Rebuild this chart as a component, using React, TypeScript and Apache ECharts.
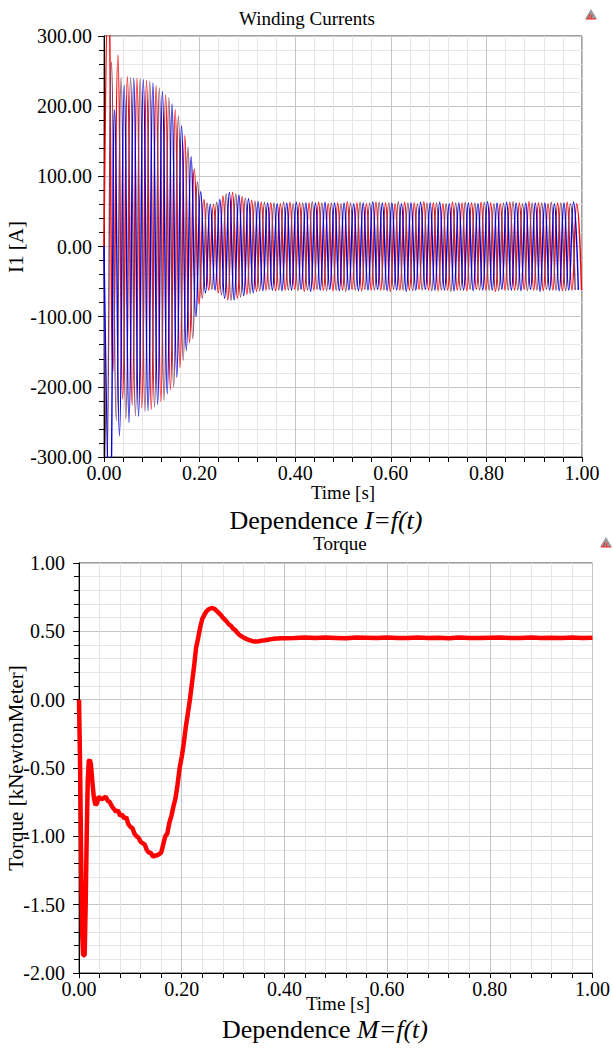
import React, { useEffect, useRef } from "react";
import * as echarts from "echarts";

// ---- Winding currents: successive half-cycle extrema (A), 50 Hz supply ----
const HALF_PERIOD = 0.01; // s between successive extrema
const RED_T0 = 0.009;
const BLUE_T0 = 0.0123;
const PURPLE_T0 = 0.0057;

const RED_PEAKS = [
  380, -178, 273, -217, 242, -226, 240, -230, 237, -232,
  229, -221, 216, -204, 195, -172, 158, -137, 110, -82,
  67, -62, 60, -66, 72, -76, 77, -74, 71, -68,
  66, -64, 63, -62,
  62, -63, 61, -62, 63, -61, 62, -64, 62, -62,
  63, -62, 61, -63, 62, -62, 64, -61, 62, -63,
  61, -62, 63, -62, 62, -64, 61, -62, 63, -62,
  62, -61, 64, -62, 62, -63, 61, -62, 63, -62,
  62, -63, 62, -61, 63, -62, 62, -64, 61, -62,
  63, -62, 62, -61, 64, -62, 62, -63, 61, -62,
  62, -63, 63, -62, 61, -62,
];

const BLUE_PEAKS = [
  -380, 195, -270, 230, -251, 240, -242, 238, -234, 233,
  -225, 221, -210, 203, -186, 172, -148, 128, -100, 78,
  -66, 60, -62, 67, -74, 77, -76, 73, -70, 68,
  -66, 64, -63, 62,
  -62, 61, -63, 62, -62, 63, -61, 62, -64, 62,
  -62, 63, -61, 62, -63, 62, -62, 61, -63, 62,
  -62, 64, -61, 62, -63, 62, -62, 61, -64, 62,
  -62, 63, -61, 62, -62, 63, -62, 61, -63, 62,
  -62, 62, -63, 61, -62, 64, -62, 62, -61, 63,
  -62, 62, -63, 62, -61, 62, -64, 62, -62, 61,
  -63, 62, -62, 63, -62,
];

const PURPLE_PEAKS = [
  -320, 263, -248, 241, -246, 241, -241, 239, -235, 236,
  -229, 226, -219, 212, -200, 186, -162, 142, -131, 92,
  -74, 62, -61, 63, -69, 75, -77, 75, -72, 69,
  -67, 65, -63, 63,
  -61, 62, -62, 63, -62, 61, -63, 62, -62, 64,
  -61, 62, -63, 62, -62, 61, -64, 62, -62, 63,
  -61, 62, -62, 63, -62, 62, -61, 64, -62, 62,
  -63, 61, -62, 62, -63, 62, -62, 61, -64, 62,
  -62, 63, -61, 62, -62, 63, -62, 61, -63, 62,
  -62, 64, -62, 61, -63, 62, -62, 62, -61, 63,
  -62, 62, -63, 61, -62,
];

// ---- Torque (kNewtonMeter) ----
const TORQUE_T = [
  0, 0.002, 0.004, 0.006, 0.008, 0.011, 0.013, 0.015, 0.017, 0.019,
  0.021, 0.023, 0.026, 0.029, 0.032, 0.035, 0.038, 0.041, 0.044, 0.048,
  0.052, 0.056, 0.060, 0.064, 0.068, 0.072, 0.076, 0.080, 0.084, 0.088,
  0.092, 0.096, 0.100, 0.104, 0.108, 0.112, 0.116, 0.120, 0.124, 0.128,
  0.132, 0.136, 0.140, 0.144, 0.148, 0.152, 0.156, 0.160, 0.164, 0.168,
  0.172, 0.176, 0.180, 0.184, 0.188, 0.192, 0.196, 0.200, 0.204, 0.208,
  0.212, 0.216, 0.220, 0.224, 0.228, 0.232, 0.236, 0.240, 0.244, 0.248,
  0.252, 0.256, 0.260, 0.264, 0.268, 0.272, 0.276, 0.280, 0.284, 0.288,
  0.292, 0.296, 0.300, 0.304, 0.308, 0.312, 0.316, 0.320, 0.326, 0.332,
  0.338, 0.344, 0.350, 0.356, 0.362, 0.370, 0.378, 0.386, 0.394, 0.402,
  0.42, 0.44, 0.46, 0.48, 0.50, 0.52, 0.54, 0.56, 0.58, 0.60,
  0.62, 0.64, 0.66, 0.68, 0.70, 0.72, 0.74, 0.76, 0.78, 0.80,
  0.82, 0.84, 0.86, 0.88, 0.90, 0.92, 0.94, 0.96, 0.98, 1.00,
];
const TORQUE_V = [
  0, -0.45, -1.1, -1.7, -1.87, -1.87, -1.5, -1.0, -0.6, -0.45,
  -0.44, -0.47, -0.6, -0.72, -0.77, -0.76, -0.71, -0.72, -0.73, -0.72,
  -0.71, -0.74, -0.75, -0.78, -0.8, -0.82, -0.81, -0.85, -0.84, -0.87,
  -0.86, -0.91, -0.93, -0.94, -0.98, -1.0, -1.01, -1.04, -1.05, -1.06,
  -1.1, -1.12, -1.12, -1.15, -1.14, -1.14, -1.13, -1.12, -1.06, -1.0,
  -0.98, -0.9, -0.85, -0.78, -0.72, -0.62, -0.5, -0.42, -0.32, -0.2,
  -0.1, 0.0, 0.12, 0.24, 0.38, 0.45, 0.53, 0.59, 0.62, 0.645,
  0.66, 0.668, 0.67, 0.665, 0.65, 0.635, 0.62, 0.6, 0.585, 0.57,
  0.55, 0.54, 0.52, 0.51, 0.49, 0.475, 0.465, 0.455, 0.445, 0.435,
  0.428, 0.425, 0.427, 0.432, 0.435, 0.44, 0.445, 0.447, 0.449, 0.45,
  0.452, 0.455, 0.451, 0.454, 0.452, 0.45, 0.455, 0.453, 0.451, 0.455,
  0.452, 0.451, 0.454, 0.452, 0.453, 0.45, 0.455, 0.452, 0.451, 0.453,
  0.455, 0.452, 0.451, 0.454, 0.452, 0.453, 0.451, 0.455, 0.452, 0.453,
];

const FONT = "Liberation Serif";

function build(t0: number, peaks: number[]) {
  const out: number[][] = [[0, 0]];
  peaks.forEach((v, k) => out.push([+(t0 + k * HALF_PERIOD).toFixed(4), v]));
  return out;
}

const labelStyle = (margin: number) => ({
  formatter: (v: number) => `{n|${v.toFixed(2)}}`,
  fontFamily: FONT,
  fontSize: 20,
  color: "#000",
  margin,
  rich: { n: { fontFamily: FONT, fontSize: 20, color: "#000" } },
});

function xAxis(gridIndex: number) {
  return {
    type: "value",
    gridIndex,
    min: 0,
    max: 1,
    interval: 0.2,
    axisLine: { show: true, onZero: false, lineStyle: { color: "#000", width: 1 } },
    axisTick: { show: true, inside: false, length: 5, lineStyle: { color: "#000" } },
    minorTick: { show: true, splitNumber: 5, length: 5, lineStyle: { color: "#000" } },
    splitLine: { show: true, lineStyle: { color: "#c4c4c4", width: 1 } },
    minorSplitLine: { show: true, lineStyle: { color: "#e6e6e6", width: 1 } },
    axisLabel: labelStyle(6),
  };
}

function yAxis(gridIndex: number, min: number, max: number, interval: number, margin: number) {
  return {
    type: "value",
    gridIndex,
    min,
    max,
    interval,
    axisLine: { show: true, onZero: false, lineStyle: { color: "#000", width: 1 } },
    axisTick: { show: true, inside: false, length: 6, lineStyle: { color: "#000" } },
    minorTick: { show: true, splitNumber: 5, length: 5, lineStyle: { color: "#000" } },
    splitLine: { show: true, lineStyle: { color: "#c4c4c4", width: 1 } },
    minorSplitLine: { show: true, lineStyle: { color: "#e6e6e6", width: 1 } },
    axisLabel: labelStyle(margin),
  };
}

function icon(x: number, y: number) {
  return {
    type: "group",
    x,
    y,
    children: [
      { type: "polygon", shape: { points: [[0, 10], [6, 0], [12, 10]] }, style: { fill: "#9a9a9a" } },
      { type: "line", shape: { x1: 3, y1: 10, x2: 5, y2: 5 }, style: { stroke: "#ff2020", lineWidth: 1 } },
      { type: "line", shape: { x1: 6, y1: 10, x2: 7, y2: 6 }, style: { stroke: "#ff2020", lineWidth: 1 } },
      { type: "line", shape: { x1: 1, y1: 10, x2: 11, y2: 10 }, style: { stroke: "#ff2020", lineWidth: 1 } },
    ],
  };
}

function txt(text: string, x: number, y: number, size: number, rotation = 0) {
  return {
    type: "text",
    x,
    y,
    rotation,
    style: {
      text,
      fill: "#000",
      fontFamily: FONT,
      fontSize: size,
      textAlign: "center",
      textVerticalAlign: "middle",
    },
  };
}

export default function App() {
  const ref = useRef<HTMLDivElement>(null);
  useEffect(() => {
    if (!ref.current) return;
    const chart = echarts.init(ref.current, null, { renderer: "svg" });
    const line = (name: string, data: number[][], color: string, xi: number, width: number, smooth: boolean) => ({
      name,
      type: "line",
      xAxisIndex: xi,
      yAxisIndex: xi,
      data,
      showSymbol: false,
      symbol: "none",
      smooth,
      clip: true,
      lineStyle: { color, width },
      silent: true,
    });
    const captionRich = {
      r: { fontFamily: FONT, fontSize: 26, fill: "#000" },
      i: { fontFamily: FONT, fontSize: 26, fontStyle: "italic", fill: "#000" },
    };
    chart.setOption({
      animation: false,
      backgroundColor: "#fff",
      textStyle: { fontFamily: FONT, color: "#000" },
      grid: [
        { left: 104, top: 36, width: 478, height: 421, show: true, borderColor: "#404040", borderWidth: 1, backgroundColor: "transparent" },
        { left: 79, top: 563, width: 517, height: 410, show: true, borderColor: "#404040", borderWidth: 1, backgroundColor: "transparent" },
      ],
      xAxis: [xAxis(0), xAxis(1)],
      yAxis: [yAxis(0, -300, 300, 100, 12), yAxis(1, -2, 1, 0.5, 14)],
      series: [
        line("I1 phase A", build(RED_T0, RED_PEAKS), "#ff0000", 0, 1.4, true),
        line("I1 phase B", build(PURPLE_T0, PURPLE_PEAKS), "#804060", 0, 1.4, true),
        line("I1 phase C", build(BLUE_T0, BLUE_PEAKS), "#0000dd", 0, 1.4, true),
        line("Torque", TORQUE_T.map((t, i) => [t, TORQUE_V[i]]), "#ff0000", 1, 4.5, false),
      ],
      graphic: [
        txt("Winding Currents", 307, 18.5, 19),
        txt("Time [s]", 343, 492, 19),
        {
          type: "text",
          x: 326,
          y: 520,
          style: { text: "{r|Dependence }{i|I=f(t)}", rich: captionRich, textAlign: "center", textVerticalAlign: "middle" },
        },
        txt("I1 [A]", 16, 247, 21, Math.PI / 2),
        txt("Torque", 340, 543.5, 19),
        txt("Time [s]", 338, 1003.5, 19),
        {
          type: "text",
          x: 325,
          y: 1029,
          style: { text: "{r|Dependence }{i|M=f(t)}", rich: captionRich, textAlign: "center", textVerticalAlign: "middle" },
        },
        txt("Torque [kNewtonMeter]", 16, 768, 21, Math.PI / 2),
        icon(585, 9),
        icon(600, 537),
      ],
    });
    return () => chart.dispose();
  }, []);
  return (
    <div
      ref={ref}
      style={{ position: "absolute", left: 0, top: 0, width: 613, height: 1050, background: "#fff" }}
    />
  );
}
